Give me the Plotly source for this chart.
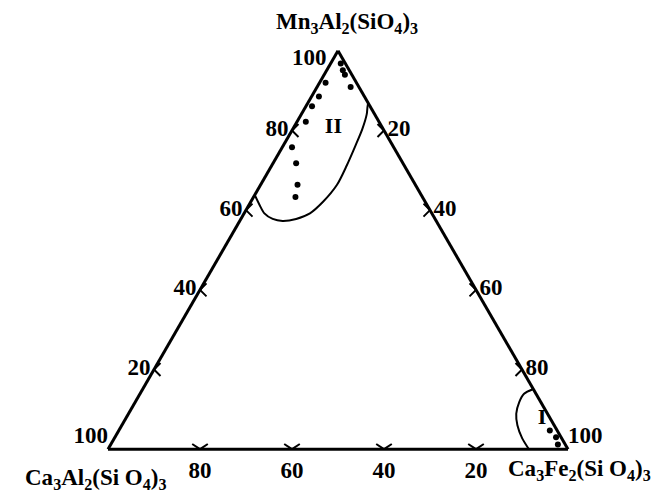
"""
Mn3Al2(SiO4)3 - Ca3Al2(SiO4)3 - Ca3Fe2(SiO4)3 三元图（石榴石成分区）
"""

import plotly.graph_objects as go

# ---------------------------------------------------------------------------
# 数据（a = Mn3Al2, b = Ca3Al2, c = Ca3Fe2，合计 100）
# ---------------------------------------------------------------------------

TICKS = [20, 40, 60, 80]

# II 区边界曲线
zone2_a = [63.8, 61.3, 59.2, 57.8, 57.3, 57.8, 59.2, 62.1, 66.3, 71.2, 76.2, 80.4, 84.1, 85.8, 86.9]
zone2_b = [36.2, 36.4, 36.4, 35.3, 33.4, 30.2, 26.5, 22.2, 17.1, 12.5, 8.1, 4.5, 1.7, 0.7, 0.0]
zone2_c = [0.0, 2.3, 4.4, 6.9, 9.3, 12.0, 14.3, 15.7, 16.6, 16.3, 15.7, 15.1, 14.2, 13.5, 13.1]

# II 区样品点
pts2_a = [96.8, 95.1, 94.0, 90.9, 92.0, 88.5, 86.1, 82.2, 75.8, 71.8, 66.4, 63.3]
pts2_b = [1.0, 1.4, 1.5, 1.8, 6.7, 9.9, 12.6, 15.9, 22.1, 23.2, 25.6, 27.6]
pts2_c = [2.2, 3.5, 4.5, 7.3, 1.3, 1.6, 1.3, 1.9, 2.1, 5.0, 8.0, 9.1]

# I 区边界曲线
zone1_a = [15.1, 13.9, 11.8, 8.9, 6.0, 2.7, 0.0]
zone1_b = [0.0, 2.6, 4.7, 6.8, 8.0, 8.6, 8.5]
zone1_c = [84.9, 83.5, 83.5, 84.3, 86.0, 88.7, 91.5]

# I 区样品点
pts1_a = [4.7, 3.0, 1.2]
pts1_b = [1.6, 1.1, 1.6]
pts1_c = [93.7, 95.9, 97.2]

# 区号标注
zone_labels = ['II', 'I']
label_a = [80.8, 7.7]
label_b = [10.6, 1.8]
label_c = [8.6, 90.5]

# 端点 100 标注（顶部的放在左边线稍下处，避免压住顶点）
end_labels = ['100', '100', '100']
end_a = [95, 0, 0]
end_b = [5, 100, 0]
end_c = [0, 0, 100]

TITLE_A = 'Mn<sub>3</sub>Al<sub>2</sub>(SiO<sub>4</sub>)<sub>3</sub>'
TITLE_B = 'Ca<sub>3</sub>Al<sub>2</sub>(Si O<sub>4</sub>)<sub>3</sub>'
TITLE_C = 'Ca<sub>3</sub>Fe<sub>2</sub>(Si O<sub>4</sub>)<sub>3</sub>'

FONT = 'Liberation Serif'
BOLD = dict(family=FONT, size=23, weight='bold', color='black')


def axis_style() -> dict:
    return dict(
        title=dict(text=''),
        min=0, tickvals=TICKS, ticks='', ticklen=0, showgrid=False,
        linecolor='black', linewidth=3, tickfont=BOLD,
    )


def build_figure() -> go.Figure:
    fig = go.Figure()

    line = dict(color='black', width=2, shape='spline', smoothing=0.8)
    fig.add_trace(go.Scatterternary(a=zone2_a, b=zone2_b, c=zone2_c,
                                    mode='lines', line=line))
    fig.add_trace(go.Scatterternary(a=zone1_a, b=zone1_b, c=zone1_c,
                                    mode='lines', line=line))

    dots = dict(color='black', size=6)
    fig.add_trace(go.Scatterternary(a=pts2_a, b=pts2_b, c=pts2_c,
                                    mode='markers', marker=dots))
    fig.add_trace(go.Scatterternary(a=pts1_a, b=pts1_b, c=pts1_c,
                                    mode='markers', marker=dots))

    # 边上的十字刻度
    zeros = [0] * len(TICKS)
    rest = [100 - t for t in TICKS]
    tick_mark = dict(color='black', size=13, line=dict(color='black', width=2))
    fig.add_trace(go.Scatterternary(a=TICKS, b=rest, c=zeros, mode='markers',
                                    marker=dict(symbol='x-thin-open', **tick_mark)))
    fig.add_trace(go.Scatterternary(a=zeros, b=TICKS, c=rest, mode='markers',
                                    marker=dict(symbol='y-down-open', **tick_mark)))
    fig.add_trace(go.Scatterternary(a=rest, b=zeros, c=TICKS, mode='markers',
                                    marker=dict(symbol='x-thin-open', **tick_mark)))

    # 顶点 100
    fig.add_trace(go.Scatterternary(
        a=end_a, b=end_b, c=end_c, mode='text',
        text=end_labels, textposition=['top left', 'top left', 'top right'],
        textfont=BOLD, cliponaxis=False))

    fig.add_trace(go.Scatterternary(
        a=label_a, b=label_b, c=label_c, mode='text', text=zone_labels,
        textfont=dict(family=FONT, size=22, weight='bold', color='black')))

    # 三个端元名称
    for text, x, y in [(TITLE_A, 0.519, 1.068),
                       (TITLE_B, -0.028, -0.0725),
                       (TITLE_C, 1.026, -0.05)]:
        fig.add_annotation(text=text, x=x, y=y, xref='paper', yref='paper',
                           showarrow=False, xanchor='center', yanchor='middle',
                           font=BOLD)

    fig.update_layout(
        width=662, height=500,
        margin=dict(l=100, r=102, t=42, b=58),
        paper_bgcolor='white',
        showlegend=False,
        font=dict(family=FONT, color='black'),
        ternary=dict(
            sum=100, bgcolor='white',
            aaxis=axis_style(),
            baxis=axis_style(),
            caxis=axis_style(),
        ),
    )
    return fig


fig = build_figure()
fig.write_html("out.html")
